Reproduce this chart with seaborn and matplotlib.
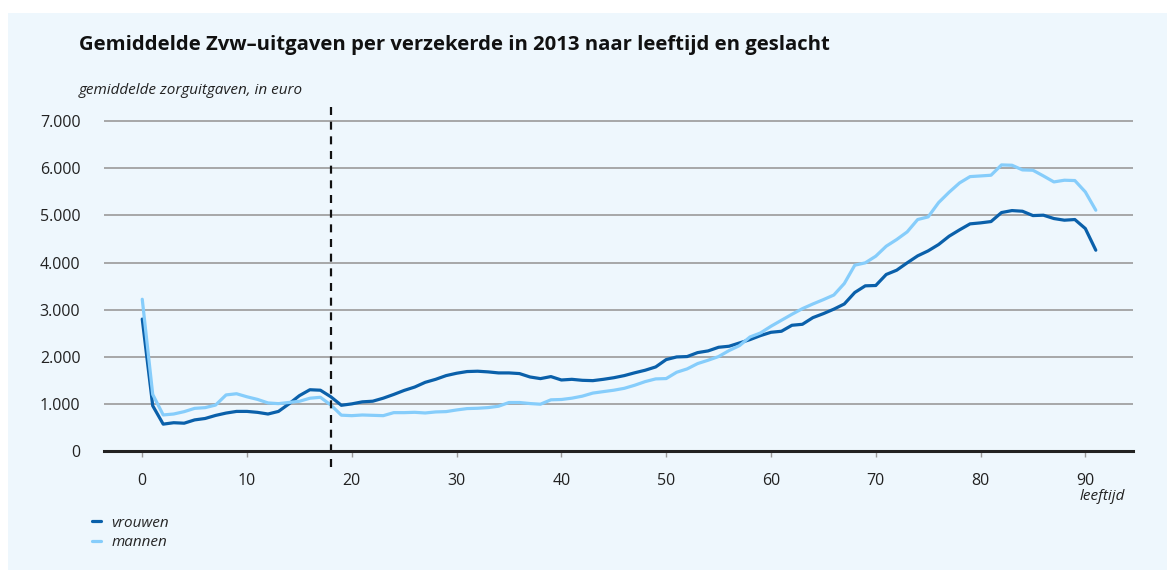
import numpy as np
import pandas as pd
import seaborn as sns
import matplotlib.pyplot as plt
from matplotlib.patches import Rectangle
from matplotlib.ticker import FuncFormatter

# leeftijd 0..91
leeftijd = list(range(0, 92))

vrouwen = [2800, 960, 570, 600, 590, 660, 690, 755, 805, 840,
           840, 820, 785, 840, 1000, 1175, 1300, 1290, 1150, 970,
           1000, 1043, 1057, 1121, 1200, 1286, 1357, 1457, 1521, 1600,
           1650, 1686, 1693, 1679, 1657, 1657, 1643, 1571, 1536, 1579,
           1507, 1521, 1500, 1493, 1521, 1555, 1600, 1660, 1714, 1784,
           1940, 1996, 2004, 2088, 2124, 2201, 2223, 2293, 2364, 2449,
           2519, 2541, 2668, 2689, 2830, 2915, 3010, 3120, 3364, 3505,
           3512, 3746, 3837, 3993, 4141, 4247, 4382, 4558, 4693, 4820,
           4841, 4869, 5060, 5102, 5088, 4996, 5004, 4933, 4898, 4912,
           4721, 4261]

mannen = [3220, 1200, 765, 785, 835, 905, 920, 975, 1190, 1215,
          1150, 1095, 1020, 1005, 1030, 1055, 1120, 1140, 975, 760,
          750, 764, 757, 750, 814, 814, 821, 807, 829, 836,
          871, 900, 907, 921, 950, 1029, 1029, 1007, 993, 1086,
          1093, 1121, 1164, 1229, 1260, 1290, 1330, 1396, 1473, 1530,
          1537, 1671, 1742, 1855, 1926, 2004, 2131, 2237, 2420, 2505,
          2647, 2774, 2901, 3021, 3120, 3212, 3310, 3555, 3943, 3993,
          4134, 4346, 4488, 4650, 4912, 4968, 5272, 5491, 5689, 5823,
          5837, 5852, 6071, 6064, 5965, 5958, 5837, 5710, 5746, 5739,
          5498, 5110]

yticks = [0, 1000, 2000, 3000, 4000, 5000, 6000, 7000]
xticks = [0, 10, 20, 30, 40, 50, 60, 70, 80, 90]
grens = 18

df = pd.DataFrame({
    'leeftijd': leeftijd * 2,
    'uitgaven': vrouwen + mannen,
    'geslacht': ['vrouwen'] * len(vrouwen) + ['mannen'] * len(mannen),
})

bg = '#eef7fd'
sns.set_theme(style='white')
plt.rcParams['font.family'] = ['Open Sans', 'DejaVu Sans']

fig = plt.figure(figsize=(11.67, 5.70), dpi=100, facecolor='white')
fig.patches.append(Rectangle((8 / 1167, 0), 1 - 8 / 1167, 1 - 13 / 570,
                             transform=fig.transFigure, facecolor=bg,
                             edgecolor='none', zorder=-10))

ax = fig.add_axes([104 / 1167, 119 / 570, 1029 / 1167, 344 / 570])
ax.set_facecolor(bg)
ax.set_zorder(1)

for y in yticks[1:]:
    ax.axhline(y, color='#9a9a9a', lw=1.2, zorder=1)

sns.lineplot(data=df, x='leeftijd', y='uitgaven', hue='geslacht',
             palette={'vrouwen': '#0a60aa', 'mannen': '#86cdfb'},
             hue_order=['vrouwen', 'mannen'], lw=2.3, ax=ax, zorder=3)

ax.axvline(grens, ymin=-16 / 344, ymax=1, color='#111111', lw=1.6,
           ls=(0, (3.6, 3.0)), clip_on=False, zorder=4)

ax.set_xlim(-3.65, 94.55)
ax.set_ylim(0, 7300)
ax.set_xticks(xticks)
ax.set_yticks(yticks)
ax.yaxis.set_major_formatter(FuncFormatter(lambda v, p: f'{int(v):,}'.replace(',', '.')))
ax.tick_params(axis='x', length=4, width=1, color='#9a9a9a', pad=12,
               labelsize=11.5, labelcolor='#222222', direction='out', bottom=True)
ax.tick_params(axis='y', length=0, pad=17, labelsize=11.5, labelcolor='#222222')

for s in ['top', 'right', 'left']:
    ax.spines[s].set_visible(False)
ax.spines['bottom'].set_color('#222222')
ax.spines['bottom'].set_linewidth(2.2)
ax.spines['bottom'].set_zorder(5)

ax.set_xlabel('')
ax.set_ylabel('')

fig.text(79 / 1167, 1 - 45 / 570, 'Gemiddelde Zvw\u2013uitgaven per verzekerde in 2013 naar leeftijd en geslacht',
         fontsize=14.6, fontweight='bold', color='#111111', va='center', ha='left')
fig.text(79 / 1167, 1 - 90 / 570, 'gemiddelde zorguitgaven, in euro',
         fontsize=11, style='italic', color='#222222', va='center', ha='left')
fig.text(1125 / 1167, 1 - 497 / 570, 'leeftijd',
         fontsize=11, style='italic', color='#222222', va='center', ha='right')

ax.legend(loc='upper left', bbox_to_anchor=(78 / 1167, 1 - 502 / 570),
          bbox_transform=fig.transFigure, frameon=False, handlelength=0.6,
          handletextpad=0.7, labelspacing=0.3,
          prop={'size': 11, 'style': 'italic'})

fig.savefig('out.png', dpi=100, facecolor='white')
